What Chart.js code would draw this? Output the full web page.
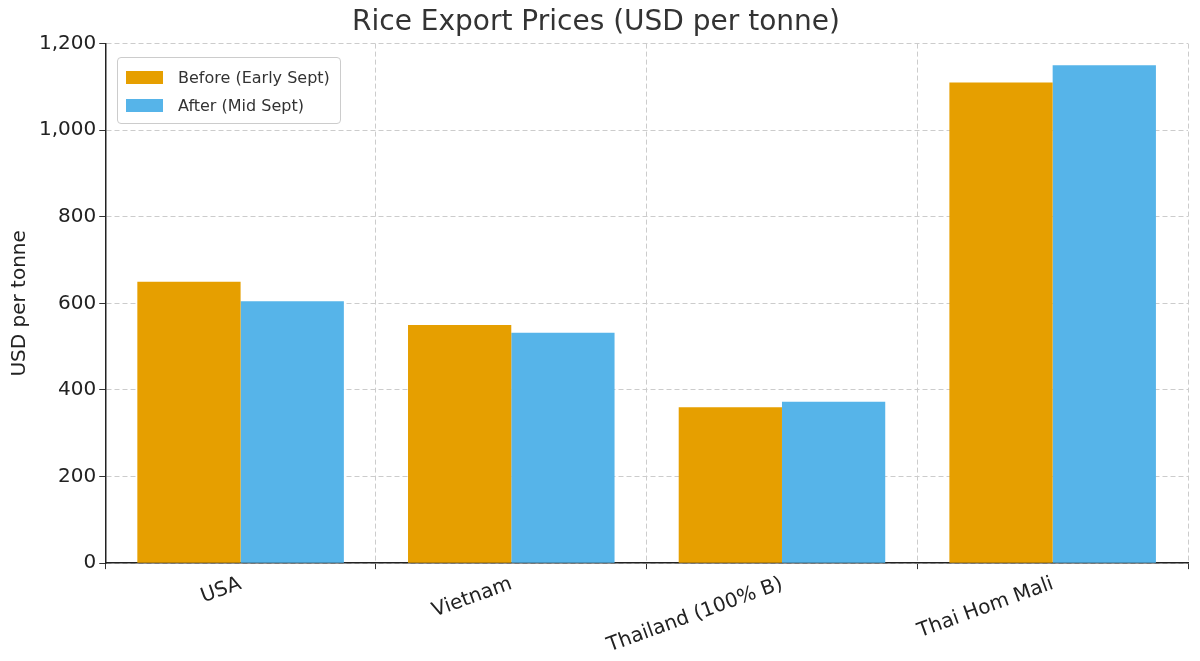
<!DOCTYPE html>
<html>
<head>
<meta charset="utf-8">
<script src="https://cdn.jsdelivr.net/npm/chart.js@4"></script>
<style>
  body { margin: 0; background: #fff; font-family: "DejaVu Sans", sans-serif; }
  #wrap { position: relative; width: 1200px; height: 661px; }
  #legend { position: absolute; left: 117px; top: 57px; border: 1px solid #ccc; border-radius: 4px;
    background: rgba(255,255,255,0.9); padding: 5px 10px 4px 8px; font-size: 16px; color: #333; }
  #legend div { display: flex; align-items: center; height: 28px; }
  #legend span.sw { display: inline-block; width: 37px; height: 13px; margin-right: 15px; }
</style>
</head>
<body>
<div id="wrap">
  <canvas id="chart" width="1200" height="661"></canvas>
  <div id="legend"></div>
</div>
<script>
// Data
const countries = ['USA', 'Vietnam', 'Thailand (100% B)', 'Thai Hom Mali'];
const hargaSebelum = [650, 550, 360, 1110];
const hargaSesudah = [605, 532, 373, 1150];
const yTicks = [0, 200, 400, 600, 800, 1000, 1200];

const seriesNames = ['Before (Early Sept)', 'After (Mid Sept)'];
const seriesColors = ['#E69F00', '#56B4E9'];

// Legend manual di dalam area plot
const legend = document.getElementById('legend');
seriesNames.forEach((nama, i) => {
    const row = document.createElement('div');
    row.innerHTML = `<span class="sw" style="background:${seriesColors[i]}"></span>${nama}`;
    legend.appendChild(row);
});

const ctx = document.getElementById('chart').getContext('2d');
new Chart(ctx, {
    type: 'bar',
    data: {
        labels: countries,
        datasets: [
            { label: seriesNames[0], data: hargaSebelum, backgroundColor: seriesColors[0] },
            { label: seriesNames[1], data: hargaSesudah, backgroundColor: seriesColors[1] }
        ]
    },
    options: {
        responsive: false,
        animation: false,
        categoryPercentage: 0.763,
        barPercentage: 1,
        layout: { padding: { right: 12, left: 4 } },
        plugins: {
            legend: { display: false },
            tooltip: { enabled: false },
            title: {
                display: true,
                text: 'Rice Export Prices (USD per tonne)',
                color: '#333',
                font: { size: 28, family: 'DejaVu Sans', weight: 'normal' },
                padding: { top: 6, bottom: 4 }
            }
        },
        scales: {
            x: {
                grid: { color: '#ccc', tickColor: '#333', tickLength: 6, borderDash: [5, 3] },
                border: { color: '#222', width: 1.5, dash: [5, 3] },
                ticks: { color: '#222', font: { size: 20, family: 'DejaVu Sans' }, maxRotation: 20, minRotation: 20 }
            },
            y: {
                min: 0, max: 1200,
                afterBuildTicks: axis => { axis.ticks = yTicks.map(v => ({ value: v })); },
                grid: { color: '#ccc', tickColor: '#333', tickLength: 6 },
                border: { color: '#222', width: 1.5, dash: [5, 3] },
                ticks: { color: '#222', font: { size: 20, family: 'DejaVu Sans' } },
                title: { display: true, text: 'USD per tonne', color: '#222', font: { size: 20, family: 'DejaVu Sans' } }
            }
        }
    }
});
</script>
</body>
</html>
